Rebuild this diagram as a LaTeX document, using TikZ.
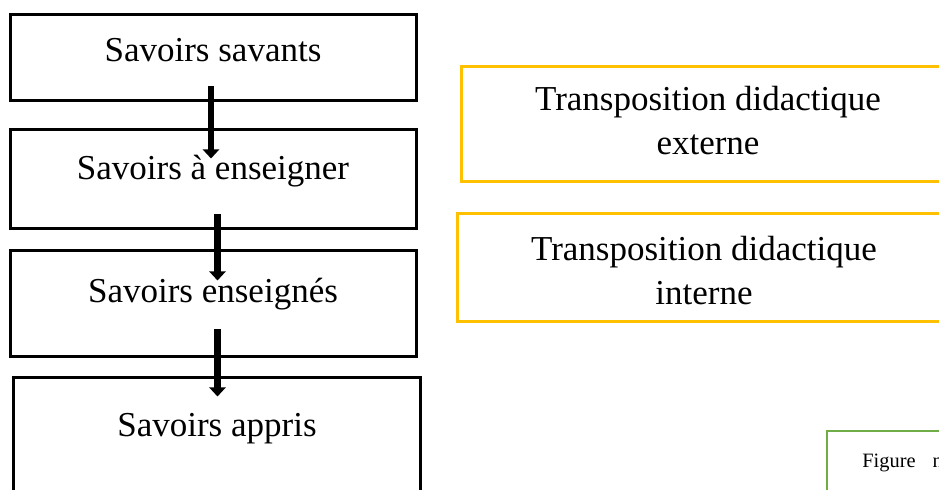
\documentclass[tikz,border=0pt]{standalone}
\usepackage{fontspec}
\setmainfont{Liberation Serif}
\usetikzlibrary{arrows.meta,positioning}

\begin{document}
\begin{tikzpicture}[x=0.5pt,y=-0.5pt,
        boite/.style={draw=black, line width=1.5pt, inner sep=0, minimum width=203pt},
        jaune/.style={draw={rgb,255:red,255;green,192;blue,0}, line width=1.5pt, inner sep=0},
        verte/.style={draw={rgb,255:red,112;green,173;blue,71}, line width=1pt, inner sep=0},
        texte/.style={anchor=base, inner sep=0, font=\fontsize{17.5}{22}\selectfont, align=center},
        fleche/.style={line width=3.25pt, -{Triangle[width=8pt,length=4.5pt]}}]
    \useasboundingbox (0,0) rectangle (939,490);
    \clip (0,0) rectangle (939,490);

        \node [boite, minimum height=43pt] (s1) at (213,58) {};
        \node [boite, minimum height=49.5pt] (s2) at (213,179.5) {};
        \node [boite, minimum height=53pt] (s3) at (213,304) {};
        \node [boite, minimum width=203.5pt, minimum height=61pt] (s4) at (216.5,439) {};
        \node [jaune, minimum width=249.5pt, minimum height=57.5pt] (t1) at (710.5,124.5) {};
        \node [jaune, minimum width=251.5pt, minimum height=54pt] (t2) at (708.5,268) {};
        \node [verte, minimum width=86.5pt, minimum height=44.5pt] (f) at (913.5,475.5) {};

        \node [texte] (l1) at (213,62) {Savoirs savants};
        \node [texte] (l2) at (213,180) {Savoirs à enseigner};
        \node [texte] (l3) at (213,303) {Savoirs enseignés};
        \node [texte] (l4) at (217,437) {Savoirs appris};
        \node [texte] (l5) at (708,155) {Transposition didactique\\externe};
        \node [texte] (l6) at (704,305) {Transposition didactique\\interne};
        \node [anchor=base west, inner sep=0, font=\fontsize{10.2}{12}\selectfont] (l7) at (862,468) {Figure\hspace{8.5pt}n};

    \draw [fleche] ([xshift=-1pt,yshift=8pt]s1.south) -- ([xshift=-1pt,yshift=-15pt]s2.north);
    \draw [fleche] ([xshift=2.25pt,yshift=8pt]s2.south) -- ([xshift=2.25pt,yshift=-15.5pt]s3.north);
    \draw [fleche] ([xshift=2.25pt,yshift=14.5pt]s3.south) -- ([xshift=0.5pt,yshift=-10pt]s4.north);
    \end{tikzpicture}
\end{document}
